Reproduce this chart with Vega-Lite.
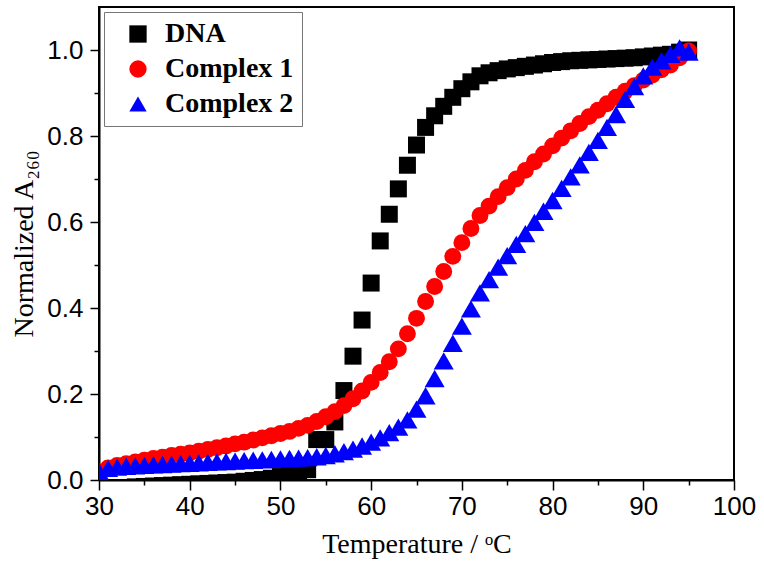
{
  "$schema": "https://vega.github.io/schema/vega-lite/v6.json",
  "width": 635,
  "height": 473,
  "autosize": {"type": "none"},
  "padding": {"left": 99, "top": 7, "right": 30, "bottom": 87},
  "background": "white",
  "config": {
    "view": {"stroke": "black", "strokeWidth": 2},
    "axis": {"grid": false, "zindex": 1, "domainColor": "black", "domainWidth": 2, "tickColor": "black", "tickWidth": 1.5, "labelColor": "black", "labelFont": "Liberation Sans", "labelFontSize": 26, "titleFont": "Liberation Serif", "titleFontSize": 28, "titleFontWeight": "normal", "titleColor": "black"},
    "legend": {"strokeColor": "#777777", "fillColor": "white", "padding": 8, "labelFont": "Liberation Serif", "labelFontWeight": "bold", "labelFontSize": 28, "labelColor": "black", "symbolSize": 300, "symbolStrokeWidth": 0, "rowPadding": 7, "labelOffset": 13, "symbolOffset": 12}
  },
  "datasets": {
    "melt": [
      {"T":30,"v":-0.03,"s":"DNA"},{"T":31,"v":-0.028,"s":"DNA"},{"T":32,"v":-0.024,"s":"DNA"},{"T":33,"v":-0.018,"s":"DNA"},{"T":34,"v":-0.016,"s":"DNA"},{"T":35,"v":-0.015,"s":"DNA"},{"T":36,"v":-0.014,"s":"DNA"},{"T":37,"v":-0.013,"s":"DNA"},{"T":38,"v":-0.012,"s":"DNA"},{"T":39,"v":-0.011,"s":"DNA"},{"T":40,"v":-0.01,"s":"DNA"},{"T":41,"v":-0.009,"s":"DNA"},{"T":42,"v":-0.008,"s":"DNA"},{"T":43,"v":-0.007,"s":"DNA"},{"T":44,"v":-0.006,"s":"DNA"},{"T":45,"v":-0.005,"s":"DNA"},{"T":46,"v":-0.003,"s":"DNA"},{"T":47,"v":-0.001,"s":"DNA"},{"T":48,"v":0.001,"s":"DNA"},{"T":49,"v":0.004,"s":"DNA"},{"T":50,"v":0.008,"s":"DNA"},{"T":51,"v":0.012,"s":"DNA"},{"T":52,"v":0.017,"s":"DNA"},{"T":53,"v":0.024,"s":"DNA"},{"T":54,"v":0.094,"s":"DNA"},{"T":55,"v":0.094,"s":"DNA"},{"T":56,"v":0.135,"s":"DNA"},{"T":57,"v":0.208,"s":"DNA"},{"T":58,"v":0.288,"s":"DNA"},{"T":59,"v":0.372,"s":"DNA"},{"T":60,"v":0.458,"s":"DNA"},{"T":61,"v":0.556,"s":"DNA"},{"T":62,"v":0.618,"s":"DNA"},{"T":63,"v":0.677,"s":"DNA"},{"T":64,"v":0.732,"s":"DNA"},{"T":65,"v":0.779,"s":"DNA"},{"T":66,"v":0.82,"s":"DNA"},{"T":67,"v":0.847,"s":"DNA"},{"T":68,"v":0.869,"s":"DNA"},{"T":69,"v":0.89,"s":"DNA"},{"T":70,"v":0.91,"s":"DNA"},{"T":71,"v":0.926,"s":"DNA"},{"T":72,"v":0.94,"s":"DNA"},{"T":73,"v":0.947,"s":"DNA"},{"T":74,"v":0.952,"s":"DNA"},{"T":75,"v":0.956,"s":"DNA"},{"T":76,"v":0.959,"s":"DNA"},{"T":77,"v":0.962,"s":"DNA"},{"T":78,"v":0.965,"s":"DNA"},{"T":79,"v":0.968,"s":"DNA"},{"T":80,"v":0.971,"s":"DNA"},{"T":81,"v":0.973,"s":"DNA"},{"T":82,"v":0.975,"s":"DNA"},{"T":83,"v":0.976,"s":"DNA"},{"T":84,"v":0.977,"s":"DNA"},{"T":85,"v":0.978,"s":"DNA"},{"T":86,"v":0.979,"s":"DNA"},{"T":87,"v":0.98,"s":"DNA"},{"T":88,"v":0.981,"s":"DNA"},{"T":89,"v":0.982,"s":"DNA"},{"T":90,"v":0.984,"s":"DNA"},{"T":91,"v":0.986,"s":"DNA"},{"T":92,"v":0.988,"s":"DNA"},{"T":93,"v":0.99,"s":"DNA"},{"T":94,"v":0.995,"s":"DNA"},{"T":95,"v":1.0,"s":"DNA"},
      {"T":30,"v":0.018,"s":"Complex 1"},{"T":31,"v":0.028,"s":"Complex 1"},{"T":32,"v":0.034,"s":"Complex 1"},{"T":33,"v":0.038,"s":"Complex 1"},{"T":34,"v":0.042,"s":"Complex 1"},{"T":35,"v":0.046,"s":"Complex 1"},{"T":36,"v":0.05,"s":"Complex 1"},{"T":37,"v":0.053,"s":"Complex 1"},{"T":38,"v":0.057,"s":"Complex 1"},{"T":39,"v":0.06,"s":"Complex 1"},{"T":40,"v":0.063,"s":"Complex 1"},{"T":41,"v":0.067,"s":"Complex 1"},{"T":42,"v":0.071,"s":"Complex 1"},{"T":43,"v":0.075,"s":"Complex 1"},{"T":44,"v":0.079,"s":"Complex 1"},{"T":45,"v":0.084,"s":"Complex 1"},{"T":46,"v":0.088,"s":"Complex 1"},{"T":47,"v":0.093,"s":"Complex 1"},{"T":48,"v":0.098,"s":"Complex 1"},{"T":49,"v":0.103,"s":"Complex 1"},{"T":50,"v":0.108,"s":"Complex 1"},{"T":51,"v":0.113,"s":"Complex 1"},{"T":52,"v":0.12,"s":"Complex 1"},{"T":53,"v":0.127,"s":"Complex 1"},{"T":54,"v":0.136,"s":"Complex 1"},{"T":55,"v":0.147,"s":"Complex 1"},{"T":56,"v":0.159,"s":"Complex 1"},{"T":57,"v":0.173,"s":"Complex 1"},{"T":58,"v":0.189,"s":"Complex 1"},{"T":59,"v":0.207,"s":"Complex 1"},{"T":60,"v":0.227,"s":"Complex 1"},{"T":61,"v":0.25,"s":"Complex 1"},{"T":62,"v":0.275,"s":"Complex 1"},{"T":63,"v":0.305,"s":"Complex 1"},{"T":64,"v":0.34,"s":"Complex 1"},{"T":65,"v":0.376,"s":"Complex 1"},{"T":66,"v":0.415,"s":"Complex 1"},{"T":67,"v":0.45,"s":"Complex 1"},{"T":68,"v":0.485,"s":"Complex 1"},{"T":69,"v":0.52,"s":"Complex 1"},{"T":70,"v":0.552,"s":"Complex 1"},{"T":71,"v":0.585,"s":"Complex 1"},{"T":72,"v":0.615,"s":"Complex 1"},{"T":73,"v":0.637,"s":"Complex 1"},{"T":74,"v":0.659,"s":"Complex 1"},{"T":75,"v":0.68,"s":"Complex 1"},{"T":76,"v":0.7,"s":"Complex 1"},{"T":77,"v":0.72,"s":"Complex 1"},{"T":78,"v":0.74,"s":"Complex 1"},{"T":79,"v":0.758,"s":"Complex 1"},{"T":80,"v":0.777,"s":"Complex 1"},{"T":81,"v":0.795,"s":"Complex 1"},{"T":82,"v":0.812,"s":"Complex 1"},{"T":83,"v":0.829,"s":"Complex 1"},{"T":84,"v":0.845,"s":"Complex 1"},{"T":85,"v":0.86,"s":"Complex 1"},{"T":86,"v":0.875,"s":"Complex 1"},{"T":87,"v":0.89,"s":"Complex 1"},{"T":88,"v":0.904,"s":"Complex 1"},{"T":89,"v":0.917,"s":"Complex 1"},{"T":90,"v":0.93,"s":"Complex 1"},{"T":91,"v":0.942,"s":"Complex 1"},{"T":92,"v":0.954,"s":"Complex 1"},{"T":93,"v":0.965,"s":"Complex 1"},{"T":94,"v":0.982,"s":"Complex 1"},{"T":95,"v":0.998,"s":"Complex 1"},
      {"T":30,"v":0.02,"s":"Complex 2"},{"T":31,"v":0.027,"s":"Complex 2"},{"T":32,"v":0.03,"s":"Complex 2"},{"T":33,"v":0.032,"s":"Complex 2"},{"T":34,"v":0.033,"s":"Complex 2"},{"T":35,"v":0.034,"s":"Complex 2"},{"T":36,"v":0.035,"s":"Complex 2"},{"T":37,"v":0.036,"s":"Complex 2"},{"T":38,"v":0.037,"s":"Complex 2"},{"T":39,"v":0.038,"s":"Complex 2"},{"T":40,"v":0.039,"s":"Complex 2"},{"T":41,"v":0.04,"s":"Complex 2"},{"T":42,"v":0.041,"s":"Complex 2"},{"T":43,"v":0.042,"s":"Complex 2"},{"T":44,"v":0.043,"s":"Complex 2"},{"T":45,"v":0.044,"s":"Complex 2"},{"T":46,"v":0.045,"s":"Complex 2"},{"T":47,"v":0.046,"s":"Complex 2"},{"T":48,"v":0.047,"s":"Complex 2"},{"T":49,"v":0.048,"s":"Complex 2"},{"T":50,"v":0.049,"s":"Complex 2"},{"T":51,"v":0.05,"s":"Complex 2"},{"T":52,"v":0.051,"s":"Complex 2"},{"T":53,"v":0.052,"s":"Complex 2"},{"T":54,"v":0.054,"s":"Complex 2"},{"T":55,"v":0.057,"s":"Complex 2"},{"T":56,"v":0.061,"s":"Complex 2"},{"T":57,"v":0.066,"s":"Complex 2"},{"T":58,"v":0.072,"s":"Complex 2"},{"T":59,"v":0.079,"s":"Complex 2"},{"T":60,"v":0.088,"s":"Complex 2"},{"T":61,"v":0.098,"s":"Complex 2"},{"T":62,"v":0.11,"s":"Complex 2"},{"T":63,"v":0.123,"s":"Complex 2"},{"T":64,"v":0.14,"s":"Complex 2"},{"T":65,"v":0.165,"s":"Complex 2"},{"T":66,"v":0.196,"s":"Complex 2"},{"T":67,"v":0.236,"s":"Complex 2"},{"T":68,"v":0.277,"s":"Complex 2"},{"T":69,"v":0.318,"s":"Complex 2"},{"T":70,"v":0.358,"s":"Complex 2"},{"T":71,"v":0.398,"s":"Complex 2"},{"T":72,"v":0.435,"s":"Complex 2"},{"T":73,"v":0.466,"s":"Complex 2"},{"T":74,"v":0.495,"s":"Complex 2"},{"T":75,"v":0.522,"s":"Complex 2"},{"T":76,"v":0.548,"s":"Complex 2"},{"T":77,"v":0.573,"s":"Complex 2"},{"T":78,"v":0.599,"s":"Complex 2"},{"T":79,"v":0.625,"s":"Complex 2"},{"T":80,"v":0.65,"s":"Complex 2"},{"T":81,"v":0.678,"s":"Complex 2"},{"T":82,"v":0.705,"s":"Complex 2"},{"T":83,"v":0.733,"s":"Complex 2"},{"T":84,"v":0.762,"s":"Complex 2"},{"T":85,"v":0.79,"s":"Complex 2"},{"T":86,"v":0.82,"s":"Complex 2"},{"T":87,"v":0.85,"s":"Complex 2"},{"T":88,"v":0.885,"s":"Complex 2"},{"T":89,"v":0.915,"s":"Complex 2"},{"T":90,"v":0.94,"s":"Complex 2"},{"T":91,"v":0.96,"s":"Complex 2"},{"T":92,"v":0.975,"s":"Complex 2"},{"T":93,"v":0.99,"s":"Complex 2"},{"T":94,"v":1.005,"s":"Complex 2"},{"T":95,"v":0.995,"s":"Complex 2"}
    ]
  },
  "data": {"name": "melt"},
  "layer": [
    {
      "transform": [{"filter": "datum.s == 'DNA'"}],
      "mark": {"type": "point", "filled": true, "opacity": 1, "clip": true, "strokeWidth": 0, "size": 289},
      "encoding": {
        "x": {"field": "T", "type": "quantitative", "scale": {"domain": [30, 100], "nice": false, "zero": false},
          "axis": {"values": [30, 40, 50, 60, 70, 80, 90, 100], "title": "Temperature / ᵒC", "tickSize": 10, "labelPadding": 3, "labelFlush": false, "labelOverlap": false, "titlePadding": 11}},
        "y": {"field": "v", "type": "quantitative", "scale": {"domain": [0, 1.1], "nice": false, "zero": false},
          "axis": {"values": [0, 0.2, 0.4, 0.6, 0.8, 1.0], "format": ".1f", "title": "Normalized A₂₆₀", "tickSize": 9, "labelPadding": 7, "labelOverlap": false, "titlePadding": 8}},
        "color": {"field": "s", "type": "nominal", "scale": {"domain": ["DNA", "Complex 1", "Complex 2"], "range": ["#000000", "#ff0000", "#0000ff"]},
          "legend": {"title": null, "orient": "top-left", "offset": 5, "labelExpr": "datum.label == 'DNA' ? ' DNA' : datum.label"}},
        "shape": {"field": "s", "type": "nominal", "scale": {"domain": ["DNA", "Complex 1", "Complex 2"], "range": ["square", "circle", "triangle-up"]},
          "legend": {"title": null, "orient": "top-left", "offset": 5, "labelExpr": "datum.label == 'DNA' ? ' DNA' : datum.label"}}
      }
    },
    {
      "transform": [{"filter": "datum.s == 'Complex 1'"}],
      "mark": {"type": "point", "filled": true, "opacity": 1, "clip": true, "strokeWidth": 0, "size": 285},
      "encoding": {
        "x": {"field": "T", "type": "quantitative", "axis": null},
        "y": {"field": "v", "type": "quantitative", "axis": null},
        "color": {"field": "s", "type": "nominal", "scale": {"domain": ["DNA", "Complex 1", "Complex 2"], "range": ["#000000", "#ff0000", "#0000ff"]}},
        "shape": {"field": "s", "type": "nominal", "scale": {"domain": ["DNA", "Complex 1", "Complex 2"], "range": ["square", "circle", "triangle-up"]}}
      }
    },
    {
      "transform": [{"filter": "datum.s == 'Complex 2'"}],
      "mark": {"type": "point", "filled": true, "opacity": 1, "clip": true, "strokeWidth": 0, "size": 400},
      "encoding": {
        "x": {"field": "T", "type": "quantitative", "axis": null},
        "y": {"field": "v", "type": "quantitative", "axis": null},
        "color": {"field": "s", "type": "nominal", "scale": {"domain": ["DNA", "Complex 1", "Complex 2"], "range": ["#000000", "#ff0000", "#0000ff"]}},
        "shape": {"field": "s", "type": "nominal", "scale": {"domain": ["DNA", "Complex 1", "Complex 2"], "range": ["square", "circle", "triangle-up"]}}
      }
    },
    {
      "mark": {"type": "point", "opacity": 0},
      "encoding": {
        "x": {"field": "T", "type": "quantitative", "axis": {"orient": "bottom", "values": [35, 45, 55, 65, 75, 85, 95], "labels": false, "domain": false, "tickSize": 5, "title": null}},
        "y": {"field": "v", "type": "quantitative", "axis": {"orient": "left", "values": [0.1, 0.3, 0.5, 0.7, 0.9], "labels": false, "domain": false, "tickSize": 5, "title": null}}
      }
    }
  ],
  "resolve": {"axis": {"x": "independent", "y": "independent"}}
}
